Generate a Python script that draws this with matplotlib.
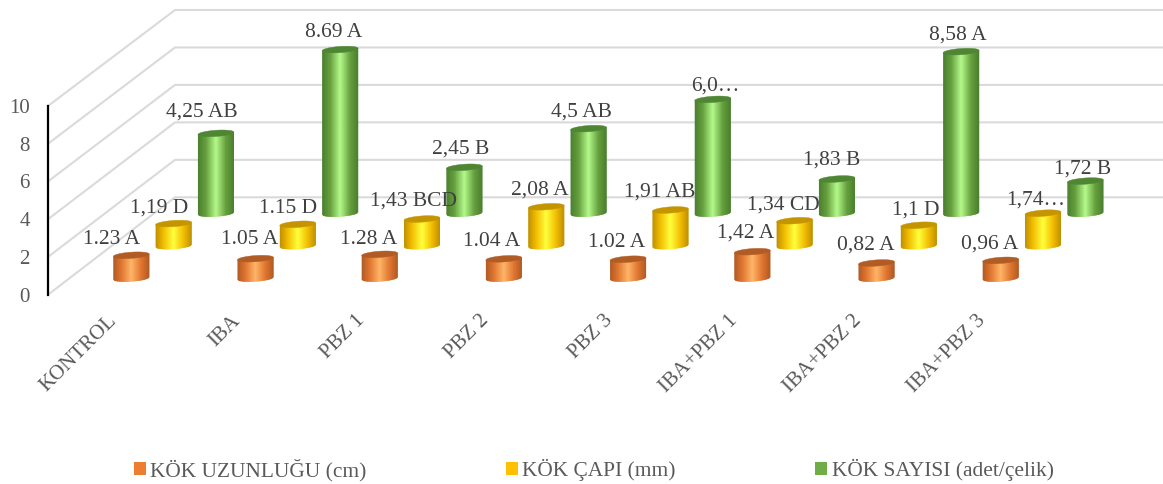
import numpy as np
import matplotlib
matplotlib.use("Agg")
import matplotlib.pyplot as plt
from matplotlib.collections import PolyCollection
from matplotlib.colors import LinearSegmentedColormap
from matplotlib.patches import Patch, Polygon
from matplotlib.transforms import ScaledTranslation

plt.rcParams["font.family"] = ["Liberation Serif", "DejaVu Serif"]

categories = ["KONTROL", "IBA", "PBZ 1", "PBZ 2", "PBZ 3", "IBA+PBZ 1", "IBA+PBZ 2", "IBA+PBZ 3"]
series_names = ["KÖK UZUNLUĞU (cm)", "KÖK ÇAPI (mm)", "KÖK SAYISI (adet/çelik)"]

root_length = [1.23, 1.05, 1.28, 1.04, 1.02, 1.42, 0.82, 0.96]
root_diameter = [1.19, 1.15, 1.43, 2.08, 1.91, 1.34, 1.10, 1.74]
root_count = [4.25, 8.69, 2.45, 4.50, 6.05, 1.83, 8.58, 1.72]

length_labels = ["1.23 A", "1.05 A", "1.28 A", "1.04 A", "1.02 A", "1,42 A", "0,82 A", "0,96 A"]
diameter_labels = ["1,19 D", "1.15 D", "1,43 BCD", "2,08 A", "1,91 AB", "1,34 CD", "1,1 D", "1,74…"]
count_labels = ["4,25 AB", "8.69 A", "2,45 B", "4,5 AB", "6,0…", "1,83 B", "8,58 A", "1,72 B"]

# Hand-placed label offsets from each cylinder top, in pixels (right, up)
length_offsets = [(-20, 15.5), (-6, 19), (-11, 14.5), (-12, 17), (-11, 17), (-7, 19), (-11, 18), (-11, 16)]
diameter_offsets = [(-14.5, 15), (-10, 16), (-8, 18), (-6, 17), (-11, 18), (-11, 16), (-3, 15), (-7, 13)]
count_offsets = [(-14.5, 21), (-7, 17), (-4, 18), (-7, 17), (3, 13), (-5.5, 18.5), (-3, 17), (-3, 12.5)]

# Shading: (edge, body, highlight, lid, legend swatch)
palettes = [
    ("#b05a24", "#e0752f", "#ffb568", "#b05c24", "#ed7d31"),
    ("#bf9000", "#f2bd00", "#ffff3c", "#c49500", "#ffc000"),
    ("#4a7f2e", "#659f3d", "#b4f98a", "#4f8633", "#70ad47"),
]

W, H = 1163, 484
AX_L, AX_B_TOP, AX_T_TOP = 48, 294.7, 106
CAT_PX = 124.2
VAL_PX = (AX_B_TOP - AX_T_TOP) / 10

# Oblique depth of the floor, expressed in axis units
DEPTH_X = 127 / CAT_PX
DEPTH_Y = 97.4 / VAL_PX
BACK_SCALE = 0.9926

RX = 18 / CAT_PX
RY = 3.1 / VAL_PX
TILT = 1.2 / VAL_PX

fig = plt.figure(figsize=(W / 100, H / 100), dpi=100, facecolor="white")
ax = fig.add_axes([AX_L / W, 1 - AX_B_TOP / H, CAT_PX * 8 / W, (AX_B_TOP - AX_T_TOP) / H])
ax.set_xlim(0, 8)
ax.set_ylim(0, 10)
ax.patch.set_visible(False)
for side in ("top", "right", "bottom"):
    ax.spines[side].set_visible(False)
ax.spines["left"].set_color("black")
ax.spines["left"].set_linewidth(1.6)

ax.set_yticks(range(0, 11, 2))
ax.tick_params(axis="y", length=0, pad=13, labelsize=15, labelcolor="#595959")
ax.set_xticks(np.arange(8) + 0.5, categories, rotation=45, ha="right", va="top",
              rotation_mode="anchor", fontsize=15, color="#595959")
ax.tick_params(axis="x", length=0, pad=12)
nudge = ScaledTranslation(-3.5 / 100, 0, fig.dpi_scale_trans)
for tick_label in ax.get_xticklabels():
    tick_label.set_transform(tick_label.get_transform() + nudge)

# Wall and floor gridlines
for v in range(0, 11, 2):
    back = DEPTH_Y + v * BACK_SCALE
    ax.plot([0, DEPTH_X, 8 + DEPTH_X], [v, back, back], color="#dadada", lw=1.5,
            clip_on=False, zorder=1, solid_joinstyle="miter")


def shade(edge, body, highlight):
    return LinearSegmentedColormap.from_list(
        "cyl", [(0, edge), (0.22, body), (0.5, highlight), (0.78, body), (1, edge)])


def draw_cylinder(cx, base, height, colors, z):
    edge, body, highlight, lid = colors[:4]
    cmap = shade(edge, body, highlight)
    u = np.linspace(-1, 1, 49)
    top = base + height
    lower = base - RY * np.sqrt(1 - u ** 2) + TILT * u
    upper = top + TILT * u
    # Each strip reaches under its right neighbour so no seams show between them
    strips = []
    shades = []
    for k in range(len(u) - 1):
        j = min(k + 2, len(u) - 1)
        strips.append([(cx + RX * u[k], lower[k]), (cx + RX * u[j], lower[j]),
                       (cx + RX * u[j], upper[j]), (cx + RX * u[k], upper[k])])
        shades.append(cmap((u[k] + u[k + 1]) / 4 + 0.5))
    ax.add_collection(PolyCollection(strips, facecolors=shades, edgecolors="none",
                                     clip_on=False, zorder=z), autolim=False)
    t = np.linspace(0, 2 * np.pi, 80)
    rim = np.column_stack([cx + RX * np.cos(t), top + RY * np.sin(t) + TILT * np.cos(t)])
    ax.add_patch(Polygon(rim, closed=True, facecolor=lid, edgecolor=lid, lw=0.3,
                         clip_on=False, zorder=z + 0.1))


series = [
    (root_length, length_labels, length_offsets),
    (root_diameter, diameter_labels, diameter_offsets),
    (root_count, count_labels, count_offsets),
]

# Deepest row first so nearer cylinders overlap it
for s in (2, 1, 0):
    values, labels, offsets = series[s]
    depth = (s + 0.5) / 3
    for i, v in enumerate(values):
        cx = i + 0.5 + DEPTH_X * depth
        base = DEPTH_Y * depth
        draw_cylinder(cx, base, v, palettes[s], 5 + (3 - s))
        ax.annotate(labels[i], xy=(cx, base + v), xytext=offsets[i], textcoords="offset pixels",
                    ha="center", va="center", fontsize=15.5, color="#404040",
                    annotation_clip=False, zorder=20)

handles = [Patch(facecolor=p[4], edgecolor="none") for p in palettes]
fig.legend(handles, series_names, ncol=3, frameon=False, loc="center left",
           bbox_to_anchor=(134 / W, 1 - 470 / H), fontsize=15.4, labelcolor="#595959",
           handlelength=0.56, handleheight=0.56, handletextpad=0.2,
           columnspacing=6.52, borderpad=0, borderaxespad=0)

fig.savefig("out.png", dpi=100)
